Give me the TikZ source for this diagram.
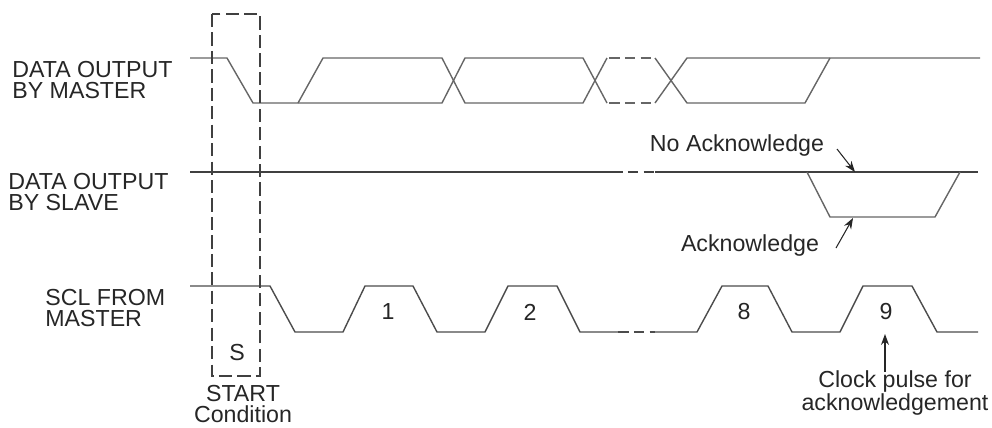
\documentclass[tikz,border=0pt]{standalone}
\usepackage{fontspec}
\setmainfont{Liberation Sans}
\usetikzlibrary{arrows.meta}

\begin{document}
\begin{tikzpicture}[
    x=0.02cm, y=-0.02cm,
    lbl/.style={inner sep=0pt, text=black!85, font=\fontsize{13.2}{11.8}\selectfont},
    wave/.style={draw=black!60, line width=0.8pt, line join=round},
    gapline/.style={wave, dash pattern=on 6pt off 3pt},
    startbox/.style={draw=black!75, line width=0.7pt, dash pattern=on 7.5pt off 3pt},
    ptr/.style={-{Stealth[length=2.2mm, width=1.6mm]}, draw=black!85, line width=0.6pt}
]
    \useasboundingbox (0,0) rectangle (992,427);

    % signal names
    \node[lbl, anchor=west, align=left] (mlab) at (12,80) {DATA OUTPUT\\BY MASTER};
    \node[lbl, anchor=west, align=left] (slab) at (8,192) {DATA OUTPUT\\BY SLAVE};
    \node[lbl, anchor=west, align=left] (clab) at (45,308) {SCL FROM\\MASTER};

    % data output by master
    \draw[wave] (190,58) -- (227,58) -- (253,103) -- (442,103) -- (465,58) -- (583,58) -- (607,103);
    \draw[wave] (298,103) -- (323,58) -- (442,58) -- (465,103) -- (583,103) -- (607,58);
    \draw[gapline] (609,58) -- (655,58);
    \draw[gapline] (609,103) -- (655,103);
    \draw[wave] (655,58) -- (687,103) -- (805,103) -- (830,58);
    \draw[wave] (655,103) -- (687,58) -- (980,58);

    % data output by slave
    \draw[wave, draw=black!75] (190,172) -- (612,172);
    \draw[gapline, draw=black!75] (612,172) -- (655,172);
    \draw[wave, draw=black!75] (655,172) -- (978,172);
    \draw[wave] (807,172) -- (830,217) -- (935,217) -- (960,172);

    % scl from master
    \draw[wave, draw=black!70] (190,286) -- (270,286) -- (295,332) -- (343,332) -- (365,286) -- (413,286)
        -- (437,332) -- (485,332) -- (508,286) -- (557,286) -- (580,332) -- (618,332);
    \draw[gapline, draw=black!70] (618,332) -- (655,332);
    \draw[wave, draw=black!70] (655,332) -- (697,332) -- (722,286) -- (768,286) -- (792,332) -- (840,332)
        -- (863,286) -- (912,286) -- (937,332) -- (978,332);
    \foreach \x/\n in {388/1, 530/2, 744/8, 886/9}
        \node[lbl] (bit\n) at (\x,312) {\n};

    % start condition
    \draw[startbox] (212,14) rectangle (260,376);
    \node[lbl] (s) at (237,353) {S};
    \node[lbl, align=center] (start) at (243,404) {START\\Condition};

    % acknowledge labels
    \node[lbl] (noack) at (737,145) {No Acknowledge};
    \node[lbl] (ack) at (750,245) {Acknowledge};
    \node[lbl, align=center] (clk) at (895,393) {Clock pulse for\\acknowledgement};
    \coordinate (na1) at (837,149);
    \coordinate (na2) at (855,172);
    \coordinate (ak1) at (836,248);
    \coordinate (ak2) at (853,218);
    \coordinate (ck1) at (885,372);
    \coordinate (ck2) at (885,334);
    \draw[ptr] (na1) -- (na2);
    \draw[ptr] (ak1) -- (ak2);
    \draw[ptr] (ck1) -- (ck2);
\end{tikzpicture}
\end{document}
